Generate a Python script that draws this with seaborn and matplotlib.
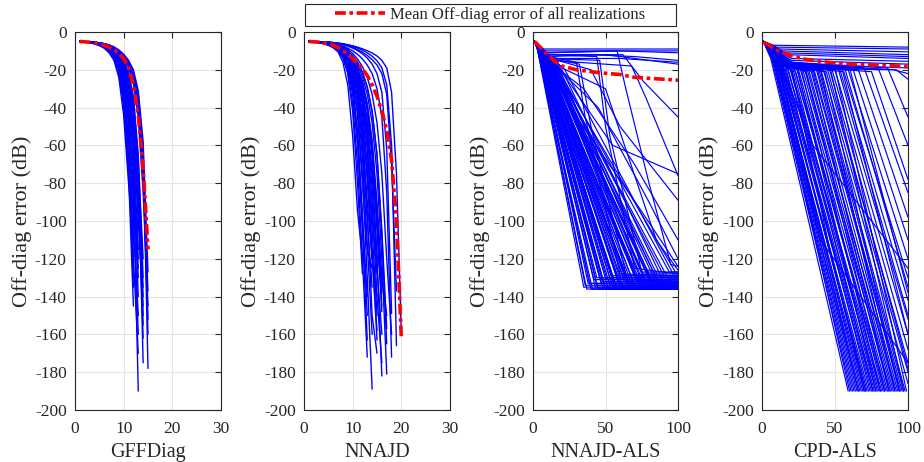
import numpy as np
import pandas as pd
import matplotlib
matplotlib.use("Agg")
import matplotlib.pyplot as plt
from matplotlib.patches import Rectangle
import seaborn as sns

# ---------------- data ----------------
panel_names = ["GFFDiag", "NNAJD", "NNAJD-ALS", "CPD-ALS"]
legend_label = "Mean Off-diag error of all realizations"
y_label = "Off-diag error (dB)"

# GFFDiag: off-diag error (dB) per realization, iteration 1..N
gff_runs = [
    [-5, -5.2, -5.6, -6.2, -7.0, -8.3, -10.5, -14, -22, -40, -75, -145],
    [-5, -5.2, -5.5, -6.0, -6.8, -8.0, -10, -13, -19, -33, -62, -130],
    [-5, -5.1, -5.4, -5.9, -6.6, -7.7, -9.5, -12.5, -18, -30, -58, -118],
    [-5, -5.2, -5.5, -6.1, -6.9, -8.1, -10.2, -13.5, -20, -36, -68, -125],
    [-5, -5.2, -5.6, -6.3, -7.2, -8.6, -11, -15, -24, -44, -80, -110],
    [-5, -5.2, -5.5, -6.0, -6.7, -7.8, -9.7, -12.8, -18.5, -31, -56, -112],
    [-5, -5.2, -5.5, -6.1, -6.8, -8, -9.9, -13, -19, -32, -60, -135],
    [-5, -5.1, -5.3, -5.7, -6.3, -7.2, -8.6, -11, -15, -23, -40, -80, -190],
    [-5, -5.1, -5.4, -5.8, -6.5, -7.5, -9, -11.5, -16, -25, -44, -85, -125],
    [-5, -5.1, -5.3, -5.6, -6.1, -6.9, -8.2, -10.2, -13.5, -20, -34, -66, -115],
    [-5, -5.1, -5.3, -5.7, -6.2, -7.1, -8.5, -10.6, -14.2, -21, -37, -72, -140],
    [-5, -5.2, -5.4, -5.9, -6.6, -7.6, -9.2, -11.8, -16.5, -26, -47, -90, -160],
    [-5, -5.1, -5.3, -5.6, -6.0, -6.7, -7.9, -9.8, -12.8, -18.5, -31, -60, -120],
    [-5, -5.1, -5.4, -5.8, -6.4, -7.4, -8.9, -11.3, -15.5, -24, -42, -82, -105],
    [-5, -5.1, -5.4, -5.9, -6.6, -7.6, -9.3, -12, -17, -27, -50, -100, -150],
    [-5, -5.1, -5.3, -5.7, -6.3, -7.3, -8.8, -11.2, -15.2, -22.5, -39, -76, -130],
    [-5, -5.2, -5.5, -6.1, -6.9, -8.1, -10.1, -13.3, -19.5, -34, -64, -120, -170],
    [-5, -5.1, -5.2, -5.5, -5.9, -6.5, -7.5, -9, -11.5, -15.5, -23, -38, -72, -175],
    [-5, -5.1, -5.3, -5.6, -6.1, -6.8, -8, -9.8, -12.6, -17, -25.5, -43, -80, -162],
    [-5, -5.1, -5.2, -5.5, -5.9, -6.5, -7.6, -9.2, -11.8, -16, -24, -40, -75, -140],
    [-5, -5.1, -5.2, -5.4, -5.8, -6.4, -7.3, -8.7, -11, -14.5, -21, -34, -65, -130],
    [-5, -5.1, -5.3, -5.6, -6.0, -6.7, -7.8, -9.5, -12.2, -16.5, -25, -42, -78, -150],
    [-5, -5.1, -5.2, -5.5, -5.9, -6.5, -7.4, -8.9, -11.3, -15, -22, -36, -68, -120],
    [-5, -5.1, -5.3, -5.6, -6.1, -6.9, -8.1, -10, -13.2, -19, -31, -55, -100, -145],
    [-5, -5.1, -5.2, -5.5, -6, -6.7, -7.8, -9.5, -12.2, -17, -27, -48, -90, -155],
    [-5, -5.1, -5.3, -5.6, -6.1, -6.8, -8, -9.8, -12.8, -18, -29, -52, -95, -135],
    [-5, -5.1, -5.2, -5.4, -5.7, -6.2, -6.9, -8, -9.7, -12, -15.5, -21, -33, -62, -178],
    [-5, -5.1, -5.2, -5.4, -5.8, -6.3, -7.1, -8.3, -10.1, -12.6, -16.5, -23, -36, -68, -152],
    [-5, -5.1, -5.2, -5.5, -5.9, -6.4, -7.3, -8.6, -10.5, -13.3, -17.5, -25, -40, -75, -137],
    [-5, -5.1, -5.2, -5.4, -5.7, -6.1, -6.8, -7.9, -9.5, -11.8, -15, -20, -31, -58, -127],
    [-5, -5.1, -5.2, -5.5, -5.8, -6.3, -7.1, -8.4, -10.4, -13.4, -18.5, -27, -45, -85, -145],
    [-5, -5.1, -5.2, -5.4, -5.7, -6.2, -7, -8.2, -10, -12.8, -17, -24, -38, -70, -160],
]
gff_mean = [-5, -5.2, -5.4, -5.8, -6.3, -7, -8, -9.3, -11.2, -14, -19, -28, -44, -72, -115]

# NNAJD
nnajd_runs = [
    [-5, -5.2, -5.6, -6.2, -7, -8.3, -10.5, -16, -28, -55, -95, -119],
    [-5, -5.2, -5.5, -6.1, -6.9, -8.1, -10.2, -13.8, -22, -42, -80, -128],
    [-5, -5.2, -5.5, -6, -6.8, -8, -10, -13.5, -21, -38, -70, -120, -172],
    [-5, -5.1, -5.4, -5.9, -6.6, -7.7, -9.4, -12.5, -19, -33, -60, -105, -163],
    [-5, -5.2, -5.5, -6, -6.7, -7.9, -9.7, -12.6, -18, -30, -55, -100, -140],
    [-5, -5.1, -5.4, -5.9, -6.5, -7.6, -9.3, -12, -17.5, -29, -52, -95, -150],
    [-5, -5.2, -5.5, -6, -6.7, -7.8, -9.5, -12, -16.5, -25, -42, -75, -130, -189],
    [-5, -5.1, -5.4, -5.8, -6.4, -7.3, -8.8, -11, -14.5, -21, -34, -60, -100, -135],
    [-5, -5.1, -5.3, -5.7, -6.3, -7.2, -8.6, -10.7, -14, -20, -31, -52, -90, -120],
    [-5, -5.2, -5.6, -6.1, -6.9, -8.1, -10, -12.8, -17.5, -26, -44, -80, -115, -125],
    [-5, -5.1, -5.3, -5.8, -6.4, -7.4, -9, -11.5, -15.5, -23, -38, -66, -112, -160],
    [-5, -5.1, -5.4, -5.8, -6.4, -7.3, -8.7, -10.8, -14, -19, -27, -42, -70, -115, -163],
    [-5, -5.1, -5.3, -5.7, -6.2, -7, -8.3, -10.2, -13, -17.5, -24.5, -37, -60, -98, -128],
    [-5, -5.2, -5.5, -5.9, -6.5, -7.5, -9, -11.3, -14.8, -20.5, -30, -47, -78, -120, -140],
    [-5, -5.1, -5.3, -5.7, -6.3, -7.1, -8.4, -10.4, -13.4, -18, -25, -38, -62, -105, -150],
    [-5, -5.1, -5.3, -5.7, -6.2, -7.1, -8.5, -10.6, -13.8, -19, -28, -45, -75, -120, -158],
    [-5, -5.2, -5.4, -5.9, -6.6, -7.6, -9.2, -11.7, -15.6, -22, -34, -56, -95, -150, -170],
    [-5, -5.1, -5.3, -5.6, -6.1, -6.9, -8.1, -9.9, -12.5, -16.5, -22.5, -32, -48, -75, -120, -182],
    [-5, -5.1, -5.3, -5.6, -6, -6.7, -7.8, -9.4, -11.8, -15.3, -20.5, -28.5, -42, -66, -105, -148],
    [-5, -5.1, -5.2, -5.5, -5.9, -6.5, -7.5, -9, -11.2, -14.3, -19, -26, -38, -58, -95, -138],
    [-5, -5.1, -5.3, -5.7, -6.2, -7, -8.2, -10, -12.8, -17, -23.5, -34, -52, -82, -125, -160],
    [-5, -5.1, -5.3, -5.6, -6.1, -6.9, -8.1, -9.9, -12.6, -16.8, -23.5, -35, -55, -90, -140, -175],
    [-5, -5.1, -5.2, -5.5, -5.9, -6.6, -7.6, -9.1, -11.3, -14.5, -19.5, -27, -40, -62, -100, -145],
    [-5, -5.1, -5.3, -5.6, -6.1, -6.8, -7.9, -9.6, -12.1, -15.8, -21.5, -31, -47, -74, -118, -130],
    [-5, -5.1, -5.2, -5.5, -5.9, -6.5, -7.4, -8.8, -10.8, -13.6, -17.5, -23.5, -33, -48, -75, -120, -181],
    [-5, -5.1, -5.2, -5.4, -5.8, -6.4, -7.2, -8.5, -10.3, -12.9, -16.5, -21.5, -29.5, -42, -65, -105, -157],
    [-5, -5.1, -5.3, -5.6, -6, -6.7, -7.7, -9.2, -11.5, -14.8, -19.5, -27, -39, -58, -90, -130, -150],
    [-5, -5.1, -5.2, -5.4, -5.8, -6.3, -7.1, -8.3, -10, -12.5, -16, -21, -29, -42, -65, -108, -165],
    [-5, -5.1, -5.2, -5.4, -5.7, -6.1, -6.7, -7.5, -8.6, -10, -11.8, -14.2, -17.5, -22, -30, -45, -85, -172],
    [-5, -5.1, -5.2, -5.4, -5.7, -6.1, -6.8, -7.8, -9.3, -11.4, -14.3, -18.3, -24, -33, -48, -75, -120, -160],
    [-5, -5.05, -5.1, -5.2, -5.4, -5.7, -6.1, -6.7, -7.5, -8.5, -9.8, -11.5, -13.8, -17, -22, -32, -62, -149],
    [-5, -5.05, -5.1, -5.2, -5.4, -5.6, -5.9, -6.3, -6.9, -7.6, -8.5, -9.6, -11, -12.8, -15.2, -19, -28, -60, -166],
    [-5, -5.05, -5.1, -5.2, -5.4, -5.7, -6.1, -6.6, -7.3, -8.2, -9.3, -10.7, -12.4, -14.6, -17.5, -22, -33, -70, -137],
    [-5, -5.05, -5.1, -5.2, -5.35, -5.55, -5.8, -6.2, -6.7, -7.3, -8, -8.9, -9.9, -11.1, -12.7, -15, -19, -32, -75, -160],
]
nnajd_mean = [-5, -5.2, -5.4, -5.7, -6.2, -7, -8.2, -9.8, -11.8, -14, -16.5, -19.5,
              -23, -28, -34, -42, -52, -68, -100, -162]

# NNAJD-ALS: runs falling to the ~-135 dB floor (start, bend, floor reached)
als_start = (1, -5)
als_fan_bend_x = [3, 3, 3, 4, 4, 3, 3, 4, 5, 5, 4, 5, 4, 6, 5, 4, 6, 5, 5, 7,
                  6, 5, 4, 8, 6, 6, 7, 9, 5, 8, 7, 10, 7, 6, 12, 9, 8, 11, 9, 14,
                  8, 10, 12, 13, 10, 16, 11, 12, 14, 9, 18, 13, 15, 11, 16, 20, 14, 17, 13, 22,
                  15, 4, 5, 6, 7, 8, 3, 4, 6, 10]
als_fan_bend_y = [-9, -8, -8, -10, -10, -9, -9, -11, -11, -10, -9, -12, -10, -11, -10, -9, -12, -9, -11, -13,
                  -10, -11, -10, -14, -12, -11, -11, -15, -10, -13, -12, -16, -12, -11, -17, -14, -12, -16, -13, -18,
                  -12, -15, -15, -17, -14, -19, -15, -16, -17, -13, -19, -16, -18, -15, -18, -20, -17, -19, -16, -20,
                  -18, -9, -10, -12, -13, -14, -8, -9, -11, -15]
als_fan_floor_x = [35, 36, 37, 38, 39, 40, 41, 42, 43, 44, 45, 46, 47, 48, 49, 50, 51, 52, 53, 54,
                   55, 56, 56, 57, 58, 59, 60, 61, 61, 62, 63, 64, 65, 66, 67, 68, 69, 70, 71, 72,
                   73, 74, 75, 76, 77, 78, 79, 80, 81, 82, 83, 84, 86, 87, 88, 90, 91, 94, 95, 98,
                   99, 48, 58, 63, 70, 66, 44, 54, 76, 85]
als_fan_floor_y = [-135, -134, -136, -133, -133, -136, -136, -131, -135, -134, -136, -130, -133, -135, -133, -136, -131, -136, -134, -129,
                   -135, -132, -134, -136, -130, -133, -134, -131, -135, -135, -132, -129, -133, -134, -136, -130, -135, -134, -131, -131,
                   -133, -135, -132, -128, -134, -133, -135, -130, -132, -134, -134, -131, -129, -133, -135, -132, -130, -127, -133, -130,
                   -128, -132, -136, -131, -129, -132, -130, -133, -136, -136]
# NNAJD-ALS: runs that stay high or leave the plateau late
als_late_runs = [
    [(1, -5), (6, -9), (100, -9)],
    [(1, -5), (8, -10), (50, -10), (100, -10)],
    [(1, -5), (10, -11), (60, -10), (100, -11)],
    [(1, -5), (8, -12), (40, -12), (70, -13), (100, -15)],
    [(1, -5), (10, -13), (50, -12), (100, -17)],
    [(1, -5), (12, -14), (60, -14), (100, -16)],
    [(1, -5), (10, -12), (44, -13), (50, -50), (70, -125), (100, -128)],
    [(1, -5), (9, -14), (46, -15), (53, -55), (75, -127), (100, -127)],
    [(1, -5), (11, -13), (30, -16), (36, -45), (60, -128), (100, -129)],
    [(1, -5), (12, -14), (32, -17), (40, -50), (65, -131), (100, -132)],
    [(1, -5), (8, -11), (58, -10), (64, -30), (80, -80), (95, -123), (100, -124)],
    [(1, -5), (10, -12), (62, -12), (76, -26), (100, -45)],
    [(1, -5), (12, -15), (68, -18), (78, -35), (100, -76)],
    [(1, -5), (12, -14), (40, -20), (60, -50), (100, -89)],
    [(1, -5), (15, -18), (35, -30), (70, -70), (100, -110)],
    [(1, -5), (14, -17), (45, -40), (80, -90), (100, -120)],
    [(1, -5), (18, -19), (55, -60), (100, -75)],
    [(1, -5), (16, -19), (30, -45), (75, -95), (100, -124)],
    [(1, -5), (20, -19), (50, -30), (85, -110), (100, -126)],
]
als_mean_x = [1, 5, 10, 15, 20, 30, 45, 60, 70, 80, 100]
als_mean_y = [-5, -8, -12, -15.5, -18, -20, -21.5, -22.5, -24, -24.5, -25.5]

# CPD-ALS
cpd_runs = [
    [(1, -5), (6, -14), (59, -190)],
    [(1, -5), (9, -16), (60, -190)],
    [(1, -5), (7, -15), (61, -190)],
    [(1, -5), (7, -13), (62, -190)],
    [(1, -5), (8, -16), (63, -190)],
    [(1, -5), (8, -14), (64, -190)],
    [(1, -5), (9, -15), (65, -190)],
    [(1, -5), (9, -17), (66, -190)],
    [(1, -5), (12, -18), (66, -190)],
    [(1, -5), (10, -16), (67, -190)],
    [(1, -5), (11, -16), (68, -190)],
    [(1, -5), (11, -18), (69, -190)],
    [(1, -5), (10, -15), (70, -190)],
    [(1, -5), (20, -18), (45, -110), (70, -190)],
    [(1, -5), (13, -17), (71, -190)],
    [(1, -5), (14, -19), (71, -190)],
    [(1, -5), (12, -17), (72, -190)],
    [(1, -5), (13, -19), (73, -190)],
    [(1, -5), (10, -14), (16, -18), (74, -190)],
    [(1, -5), (14, -18), (75, -190)],
    [(1, -5), (10, -15), (15, -19), (76, -190)],
    [(1, -5), (12, -16), (20, -20), (76, -190)],
    [(1, -5), (10, -16), (16, -20), (77, -190)],
    [(1, -5), (10, -14), (17, -18), (78, -190)],
    [(1, -5), (12, -15), (24, -19), (78, -190)],
    [(1, -5), (12, -15), (21, -19), (79, -190)],
    [(1, -5), (10, -15), (18, -20), (80, -190)],
    [(1, -5), (10, -15), (19, -19), (81, -190)],
    [(1, -5), (12, -16), (27, -20), (81, -190)],
    [(1, -5), (12, -16), (20, -20), (82, -190)],
    [(1, -5), (12, -16), (24, -20), (83, -190)],
    [(1, -5), (12, -16), (22, -19), (84, -190)],
    [(1, -5), (14, -17), (30, -20), (84, -190)],
    [(1, -5), (12, -17), (23, -21), (85, -190)],
    [(1, -5), (12, -16), (25, -20), (86, -190)],
    [(1, -5), (14, -17), (29, -19), (87, -190)],
    [(1, -5), (14, -16), (34, -19), (87, -190)],
    [(1, -5), (12, -15), (26, -19), (88, -190)],
    [(1, -5), (12, -16), (28, -20), (89, -190)],
    [(1, -5), (14, -17), (30, -21), (90, -190)],
    [(1, -5), (14, -16), (32, -20), (91, -190)],
    [(1, -5), (15, -17), (40, -20), (91, -190)],
    [(1, -5), (14, -16), (31, -20), (92, -190)],
    [(1, -5), (14, -16), (33, -19), (93, -190)],
    [(1, -5), (15, -17), (37, -19), (94, -190)],
    [(1, -5), (15, -18), (43, -21), (94, -190)],
    [(1, -5), (14, -17), (35, -20), (95, -190)],
    [(1, -5), (14, -18), (36, -21), (96, -190)],
    [(1, -5), (15, -17), (38, -20), (97, -190)],
    [(1, -5), (16, -17), (47, -20), (97, -190)],
    [(1, -5), (15, -18), (39, -20), (98, -190)],
    [(1, -5), (16, -16), (50, -19), (99, -190)],
    [(1, -5), (10, -15), (40, -110), (100, -175)],
    [(1, -5), (12, -16), (35, -60), (100, -125)],
    [(1, -5), (15, -16), (40, -19), (100, -186)],
    [(1, -5), (15, -17), (42, -20), (100, -180)],
    [(1, -5), (16, -17), (45, -20), (100, -178)],
    [(1, -5), (15, -18), (44, -21), (100, -175)],
    [(1, -5), (16, -16), (46, -19), (100, -168)],
    [(1, -5), (16, -17), (48, -20), (100, -160)],
    [(1, -5), (18, -17), (55, -20), (100, -160)],
    [(1, -5), (16, -17), (50, -20), (100, -152)],
    [(1, -5), (16, -16), (52, -19), (100, -150)],
    [(1, -5), (16, -16), (53, -19), (100, -142)],
    [(1, -5), (18, -16), (60, -19), (100, -138)],
    [(1, -5), (18, -17), (57, -20), (100, -135)],
    [(1, -5), (18, -18), (56, -21), (100, -130)],
    [(1, -5), (18, -17), (59, -20), (100, -120)],
    [(1, -5), (18, -16), (62, -19), (100, -110)],
    [(1, -5), (18, -17), (66, -20), (100, -98)],
    [(1, -5), (20, -16), (70, -19), (100, -85)],
    [(1, -5), (20, -18), (75, -21), (100, -78)],
    [(1, -5), (20, -17), (80, -20), (100, -60)],
    [(1, -5), (20, -16), (86, -19), (100, -45)],
    [(1, -5), (22, -17), (92, -20), (100, -25)],
    [(1, -5), (8, -7), (100, -8)],
    [(1, -5), (10, -8), (100, -9)],
    [(1, -5), (12, -9), (100, -10.5)],
    [(1, -5), (14, -10), (100, -12)],
    [(1, -5), (15, -11), (100, -13)],
    [(1, -5), (18, -12), (100, -14)],
    [(1, -5), (20, -14), (100, -15.5)],
    [(1, -5), (20, -15), (100, -17)],
    [(1, -5), (22, -17), (100, -19)],
    [(1, -5), (25, -19), (90, -20), (100, -22)],
]
cpd_mean_x = [1, 5, 10, 20, 30, 45, 60, 80, 100]
cpd_mean_y = [-5.5, -7, -9.5, -12.5, -14.5, -16, -17, -17.5, -18.3]


# ---------------- build long tables ----------------
def values_frame(runs):
    rows = [(k, i + 1, v) for k, vals in enumerate(runs) for i, v in enumerate(vals)]
    return pd.DataFrame(rows, columns=["run", "iter", "err"])


def points_frame(runs):
    rows = [(k, x, y) for k, pts in enumerate(runs) for x, y in pts]
    return pd.DataFrame(rows, columns=["run", "iter", "err"])


als_fan = [[als_start, (bx, by), (fx, fy), (100, fy)]
           for bx, by, fx, fy in zip(als_fan_bend_x, als_fan_bend_y, als_fan_floor_x, als_fan_floor_y)]

panel_runs = [
    values_frame(gff_runs),
    values_frame(nnajd_runs),
    points_frame(als_fan + als_late_runs),
    points_frame(cpd_runs),
]
panel_means = [
    pd.DataFrame({"iter": np.arange(1, len(gff_mean) + 1), "err": gff_mean}),
    pd.DataFrame({"iter": np.arange(1, len(nnajd_mean) + 1), "err": nnajd_mean}),
    pd.DataFrame({"iter": als_mean_x, "err": als_mean_y}),
    pd.DataFrame({"iter": cpd_mean_x, "err": cpd_mean_y}),
]
x_limits = [(0, 30), (0, 30), (0, 100), (0, 100)]
x_ticks = [[0, 10, 20, 30], [0, 10, 20, 30], [0, 50, 100], [0, 50, 100]]
blue_widths = [1.0, 1.0, 0.85, 0.85]

# ---------------- style ----------------
sns.set_theme(style="whitegrid")
plt.rcParams["font.family"] = ["Liberation Serif", "DejaVu Serif"]
plt.rcParams.update({
    "axes.unicode_minus": False,
    "axes.edgecolor": "#262626",
    "axes.linewidth": 0.8,
    "grid.color": "#e3e3e3",
    "grid.linewidth": 0.8,
    "xtick.color": "#262626",
    "ytick.color": "#262626",
    "text.color": "#262626",
    "axes.labelcolor": "#262626",
})

fig = plt.figure(figsize=(9.24, 4.62), dpi=100)
W, H = 924, 462
lefts = [75, 304, 533, 762]
widths = [146, 146, 145, 146]

for i in range(4):
    ax = fig.add_axes([lefts[i] / W, (H - 410) / H, widths[i] / W, 378 / H])
    sns.lineplot(data=panel_runs[i], x="iter", y="err", units="run", estimator=None,
                 sort=False, color="#0000ff", lw=blue_widths[i], ax=ax)
    sns.lineplot(data=panel_means[i], x="iter", y="err", color="#ff0000", lw=2.6,
                 linestyle=(0, (3, 1, 1, 1)), label=legend_label, ax=ax)
    ax.get_legend().remove()
    ax.set_xlim(*x_limits[i])
    ax.set_ylim(-200, 0)
    ax.set_xticks(x_ticks[i])
    ax.set_yticks(np.arange(-200, 1, 20))
    ax.set_xlabel(panel_names[i], fontsize=14.5, labelpad=4)
    ax.set_ylabel(y_label, fontsize=16, labelpad=2)
    ax.tick_params(axis="both", which="both", direction="in", top=True, right=True,
                   length=4, width=0.8, labelsize=12.5)
    ax.tick_params(axis="x", pad=8)
    ax.tick_params(axis="y", pad=6)
    ax.set_axisbelow(True)
    for s in ax.spines.values():
        s.set_visible(True)
    if i == 1:
        handle = ax.get_lines()[-1]

fig.add_artist(Rectangle((305 / W, 1 - 26 / H), 371 / W, 22 / H, transform=fig.transFigure,
                         fill=False, edgecolor="#262626", lw=0.8))
fig.legend(handles=[handle], labels=[legend_label], loc="center",
           bbox_to_anchor=(490 / W, 1 - 15 / H), frameon=False, fontsize=12,
           handlelength=3.0, handletextpad=0.3, borderpad=0)

fig.savefig("out.png", dpi=100)
